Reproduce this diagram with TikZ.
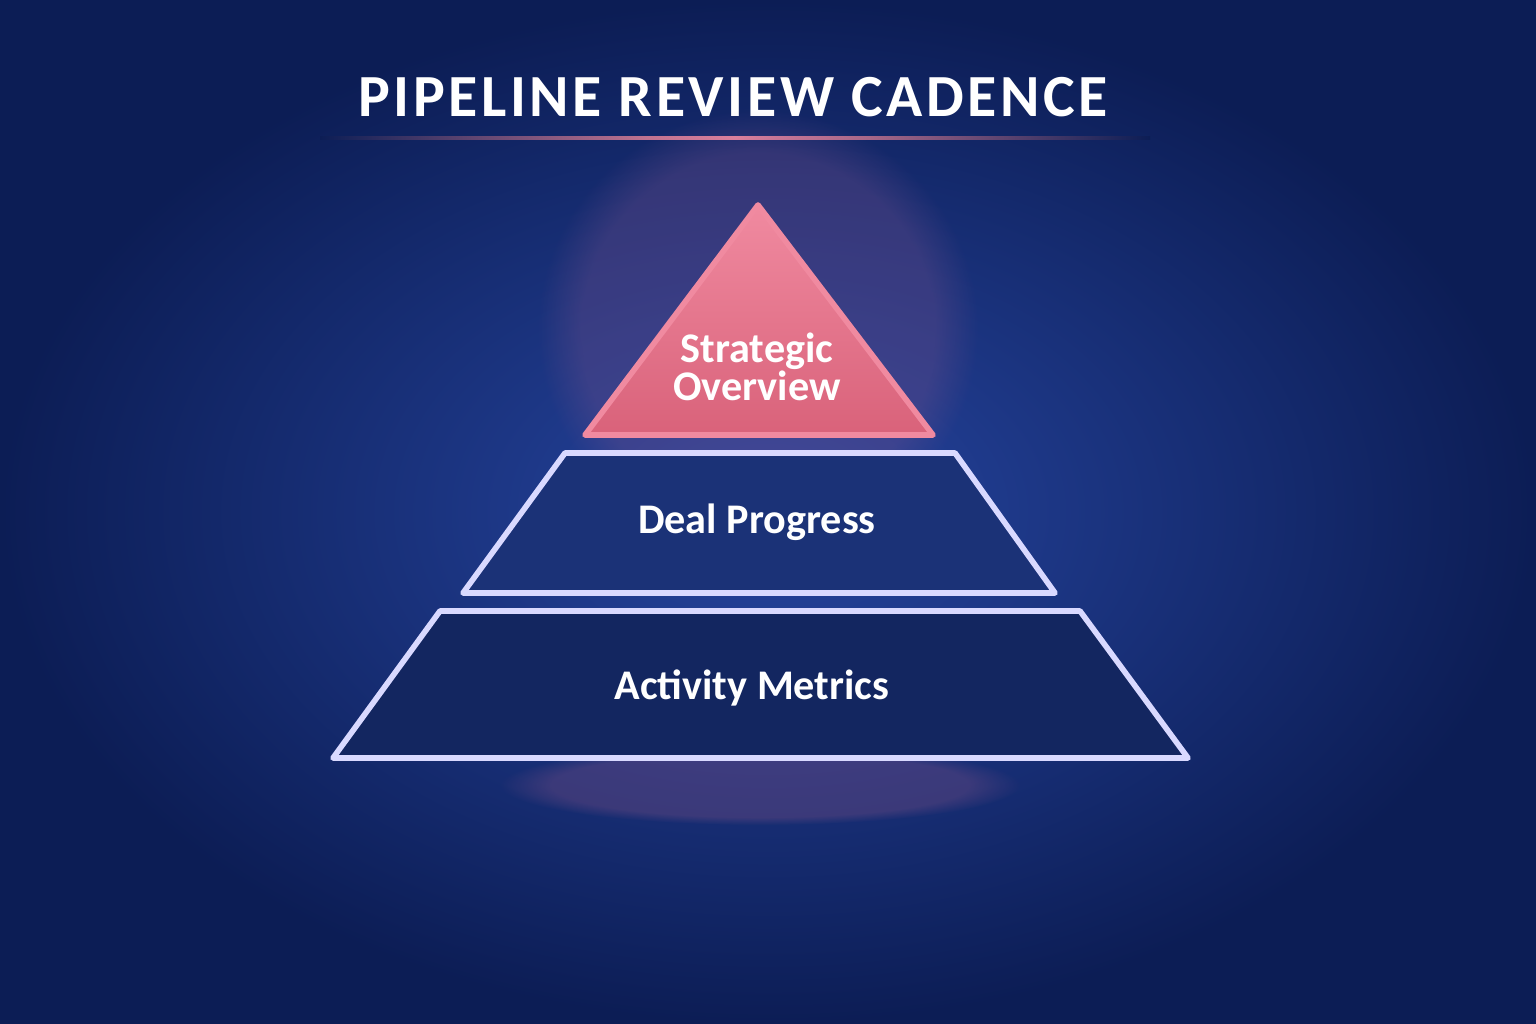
\documentclass[tikz,border=0pt]{standalone}
\usepackage{fontspec}
\setmainfont{Carlito}
\usetikzlibrary{positioning,fadings}
\definecolor{navy}{HTML}{0C1D55}
\definecolor{navylight}{HTML}{2645A0}
\definecolor{tierblue}{HTML}{1B3277}
\definecolor{tierdark}{HTML}{132660}
\definecolor{peak}{HTML}{D9627A}
\definecolor{peaklight}{HTML}{F08AA0}
\tikzset{
  tier/.style={draw=white!85!blue, line width=1.6pt, line join=round},
  label/.style={text=white, font=\bfseries\fontsize{12}{14}\selectfont, align=center}
}
\begin{document}
\begin{tikzpicture}[x=0.01cm,y=-0.01cm]
  % background
  \shade[inner color=navylight, outer color=navy] (0,0) rectangle (1536,1024);
  \useasboundingbox (0,0) rectangle (1536,1024);
  % title and rule
  \node[text=white, font=\bfseries\fontsize{17}{20}\selectfont] (title) at (733,97) {\addfontfeature{LetterSpace=6}PIPELINE REVIEW CADENCE};
  \shade[left color=navy, right color=navy, middle color=peaklight] (320,136) rectangle (1150,139);
  % glow behind the peak and below the base
  \fill[peak!50!navylight, path fading=circle with fuzzy edge 20 percent, opacity=0.3] (758,330) circle (220);
  \fill[peak!60!navylight, path fading=circle with fuzzy edge 20 percent, opacity=0.3] (760,785) ellipse (260 and 40);
  % tiers
  \draw[tier, fill=tierdark] (440,611) -- (1080,611) -- (1188,758) -- (333,758) -- cycle;
  \draw[tier, fill=tierblue] (565,453) -- (955,453) -- (1055,593) -- (463,593) -- cycle;
  \draw[tier, draw=peaklight, top color=peaklight, bottom color=peak] (758,205) -- (933,435) -- (585,435) -- cycle;
  % labels
  \node[label] (strategic) at (757,367) {Strategic\\[-3pt]Overview};
  \node[label] (deal) at (757,522) {Deal Progress};
  \node[label] (activity) at (752,688) {Activity Metrics};
\end{tikzpicture}
\end{document}
